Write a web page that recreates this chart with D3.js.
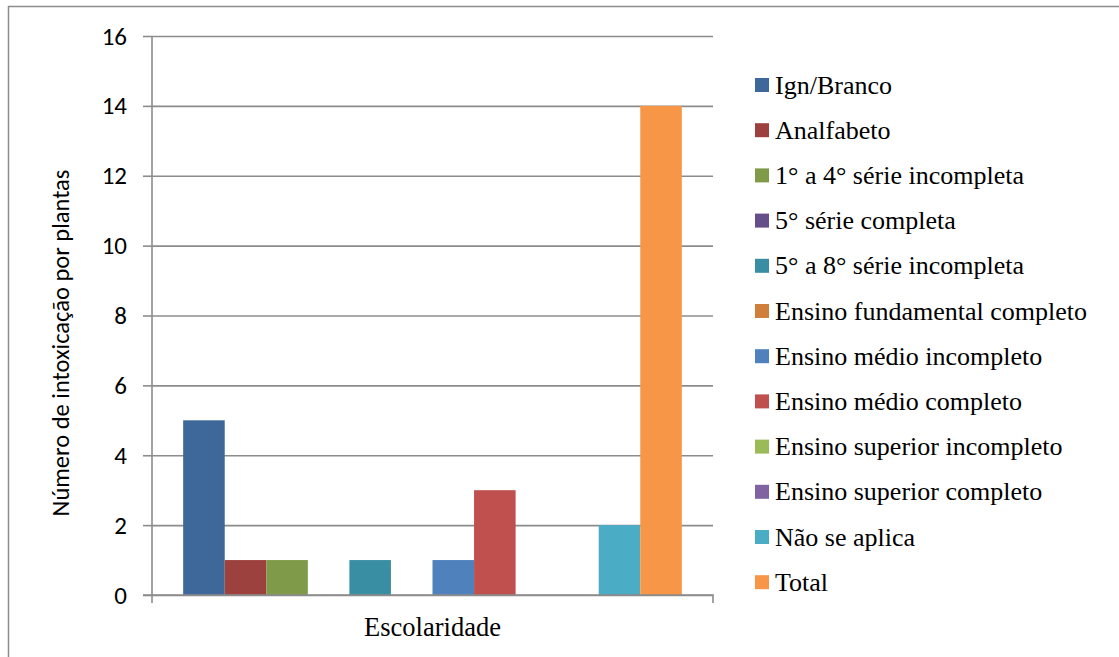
<!DOCTYPE html>
<html>
<head>
<meta charset="utf-8">
<script src="https://cdn.jsdelivr.net/npm/d3@7"></script>
<style>
  body { margin: 0; background: #fff; }
  svg { display: block; }
</style>
</head>
<body>
<script>
var svgWidth = 1119;
var svgHeight = 657;

// chart data
var categories = ["Escolaridade"];
var seriesNames = [
  "Ign/Branco",
  "Analfabeto",
  "1° a 4° série incompleta",
  "5° série completa",
  "5° a 8° série incompleta",
  "Ensino fundamental completo",
  "Ensino médio incompleto",
  "Ensino médio completo",
  "Ensino superior incompleto",
  "Ensino superior completo",
  "Não se aplica",
  "Total"
];
var seriesValues = [5, 1, 1, 0, 1, 0, 1, 3, 0, 0, 2, 14];
var seriesColors = [
  "#3e6899", "#9d413e", "#7f9a48", "#664f88", "#3a8ea3", "#d07f3a",
  "#4f81bd", "#c0504d", "#9bbb59", "#8064a2", "#4bacc6", "#f79646"
];
var yTicks = [0, 2, 4, 6, 8, 10, 12, 14, 16];

var serifFont = "'Liberation Serif'";
var sansFont = "'Carlito'";

var margin = { top: 36, left: 152, right: 406, bottom: 62 };
var width = svgWidth - margin.left - margin.right;
var height = svgHeight - margin.top - margin.bottom;

var svg = d3.select("body")
  .append("svg")
  .attr("width", svgWidth)
  .attr("height", svgHeight);

// outer frame (only top and left edges are visible in the picture)
svg.append("rect")
  .attr("x", 8.5)
  .attr("y", 6.5)
  .attr("width", svgWidth + 20)
  .attr("height", svgHeight + 20)
  .attr("fill", "none")
  .attr("stroke", "#8c8c8c")
  .attr("stroke-width", 1.5);

var chart = svg.append("g")
  .attr("transform", "translate(" + margin.left + "," + margin.top + ")");

var yScale = d3.scaleLinear()
  .domain([0, 16])
  .range([height, 0]);

// gap width 150% -> 0.75 bar width on each side
var x0 = d3.scaleBand()
  .domain(categories)
  .range([0, width])
  .paddingInner(0)
  .paddingOuter(0.75 / seriesNames.length);

var x1 = d3.scaleBand()
  .domain(seriesNames)
  .range([0, x0.bandwidth()])
  .padding(0);

// gridlines
chart.append("g")
  .attr("class", "grid")
  .call(d3.axisLeft(yScale).tickValues(yTicks).tickSize(-width).tickFormat(""))
  .call(function(g) {
    g.select(".domain").remove();
    g.selectAll("line").attr("stroke", "#8c8c8c").attr("stroke-width", 1.6);
  });

// bars
var rows = seriesNames.map(function(name, i) {
  return { cat: categories[0], name: name, value: seriesValues[i], color: seriesColors[i] };
});

chart.append("g")
  .selectAll("rect")
  .data(rows)
  .enter()
  .append("rect")
  .attr("x", function(d) { return x0(d.cat) + x1(d.name); })
  .attr("y", function(d) { return yScale(d.value); })
  .attr("width", x1.bandwidth())
  .attr("height", function(d) { return height - yScale(d.value); })
  .attr("fill", function(d) { return d.color; });

// y axis
chart.append("g")
  .call(d3.axisLeft(yScale).tickValues(yTicks).tickSize(9).tickPadding(16))
  .call(function(g) {
    g.select(".domain").attr("stroke", "#8c8c8c").attr("stroke-width", 1.6)
      .attr("d", "M0,0V" + (height + 8));
    g.selectAll("line").attr("stroke", "#8c8c8c").attr("stroke-width", 1.6);
    g.selectAll("text")
      .attr("fill", "#000")
      .style("font-family", sansFont)
      .style("font-size", "25px");
  });

// x axis (category boundaries)
chart.append("g")
  .attr("transform", "translate(0," + height + ")")
  .call(d3.axisBottom(x0).tickValues([]).tickSizeOuter(8))
  .call(function(g) {
    g.select(".domain").attr("stroke", "#8c8c8c").attr("stroke-width", 1.6)
      .attr("d", "M-9,0H" + width + "V8");
  });

// axis titles
svg.append("text")
  .attr("x", margin.left + width / 2)
  .attr("y", 636)
  .attr("text-anchor", "middle")
  .style("font-family", serifFont)
  .style("font-size", "26.5px")
  .text(categories[0]);

svg.append("text")
  .attr("transform", "translate(69," + 343 + ") rotate(-90)")
  .attr("text-anchor", "middle")
  .style("font-family", sansFont)
  .style("font-size", "24.5px")
  .text("Número de intoxicação por plantas");

// legend
var legend = svg.append("g")
  .attr("transform", "translate(755,85)");

var item = legend.selectAll("g")
  .data(rows)
  .enter()
  .append("g")
  .attr("transform", function(d, i) { return "translate(0," + (i * 45.2) + ")"; });

item.append("rect")
  .attr("x", 0)
  .attr("y", -7)
  .attr("width", 14)
  .attr("height", 14)
  .attr("fill", function(d) { return d.color; });

item.append("text")
  .attr("x", 20)
  .attr("y", 8.5)
  .style("font-family", serifFont)
  .style("font-size", "26px")
  .text(function(d) { return d.name; });
</script>
</body>
</html>
